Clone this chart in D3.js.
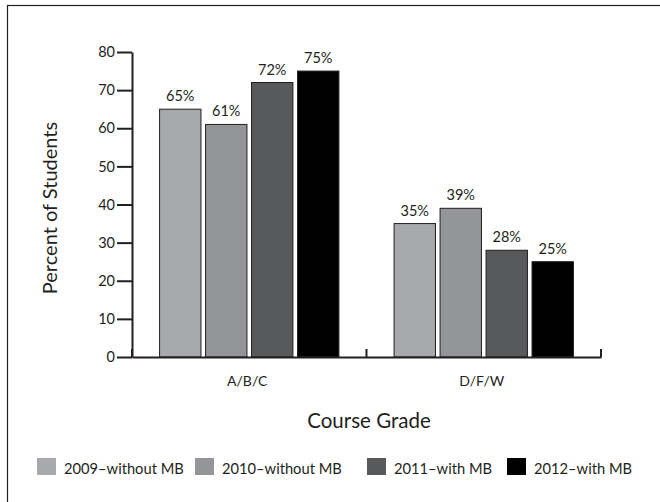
<!DOCTYPE html>
<html><head><meta charset="utf-8">
<script src="https://cdn.jsdelivr.net/npm/d3@7"></script>
<style>body{margin:0;background:#fff}svg{display:block}text{font-family:Lato,"Open Sans",sans-serif;fill:#231f20}</style>
</head><body><svg id="c" width="660" height="502"></svg>
<script>
const categories = ["A/B/C", "D/F/W"];
const seriesNames = ["2009–without MB", "2010–without MB", "2011–with MB", "2012–with MB"];
const seriesColors = ["#a7a9ac", "#939598", "#58595b", "#000000"];
const values2009 = [65, 35];
const values2010 = [61, 39];
const values2011 = [72, 28];
const values2012 = [75, 25];
const yTicks = [0, 10, 20, 30, 40, 50, 60, 70, 80];
const seriesValues = [values2009, values2010, values2011, values2012];

const svg = d3.select("#c");
svg.append("rect").attr("x", 7.5).attr("y", 5.5).attr("width", 660).attr("height", 510)
  .attr("fill", "none").attr("stroke", "#231f20").attr("stroke-width", 1.2);

const x0 = d3.scaleBand().domain(categories).range([132, 601]).paddingInner(0).paddingOuter(0);
const x1 = d3.scaleBand().domain(seriesNames).range([0, x0.bandwidth()]).paddingInner(0.1).paddingOuter(0.6);
const y = d3.scaleLinear().domain([0, 80]).range([357, 52]);

// bars
categories.forEach((cat, ci) => {
  seriesNames.forEach((s, si) => {
    const v = seriesValues[si][ci];
    const bx = x0(cat) + x1(s);
    svg.append("rect").attr("x", bx).attr("y", y(v)).attr("width", x1.bandwidth())
      .attr("height", y(0) - y(v)).attr("fill", seriesColors[si])
      .attr("stroke", "#231f20").attr("stroke-width", 1);
    svg.append("text").attr("x", bx + x1.bandwidth() / 2).attr("y", y(v) - 8)
      .attr("text-anchor", "middle").attr("font-size", 14.5).text(v + "%");
  });
});

// y axis
const yAxis = svg.append("g").attr("transform", "translate(132,0)")
  .call(d3.axisLeft(y).tickValues(yTicks).tickSize(15).tickPadding(2).tickSizeOuter(0));
yAxis.select(".domain").attr("stroke", "#231f20").attr("stroke-width", 2);
yAxis.selectAll(".tick line").attr("stroke", "#231f20").attr("stroke-width", 2);
yAxis.selectAll(".tick text").attr("font-size", 14.5).attr("font-family", "Lato, sans-serif").attr("fill", "#231f20");

// x axis
const xAxis = svg.append("g").attr("transform", "translate(0,357)")
  .call(d3.axisBottom(x0).tickSize(0));
xAxis.select(".domain").attr("stroke", "#231f20").attr("stroke-width", 2);
xAxis.selectAll(".tick text").attr("font-size", 14).attr("font-family", "Lato, sans-serif")
  .attr("fill", "#231f20").attr("y", 29).attr("dy", 0).attr("dx", -2);
// boundary ticks pointing up
const bounds = [x0.range()[0], x0(categories[1]), x0.range()[1]];
svg.append("g").selectAll("line").data(bounds).join("line")
  .attr("x1", d => d).attr("x2", d => d).attr("y1", 357).attr("y2", 349)
  .attr("stroke", "#231f20").attr("stroke-width", 2);

// axis titles
svg.append("text").attr("transform", "translate(57,208) rotate(-90)")
  .attr("text-anchor", "middle").attr("font-size", 20).text("Percent of Students");
svg.append("text").attr("x", 369).attr("y", 428).attr("text-anchor", "middle")
  .attr("font-size", 20.5).text("Course Grade");

// legend
const legendX = [37, 195, 367, 507];
const lg = svg.append("g");
seriesNames.forEach((s, i) => {
  lg.append("rect").attr("x", legendX[i]).attr("y", 458).attr("width", 19).attr("height", 17)
    .attr("fill", seriesColors[i]);
  lg.append("text").attr("x", legendX[i] + 27).attr("y", 474).attr("font-size", 14.7).text(s);
});
</script></body></html>
